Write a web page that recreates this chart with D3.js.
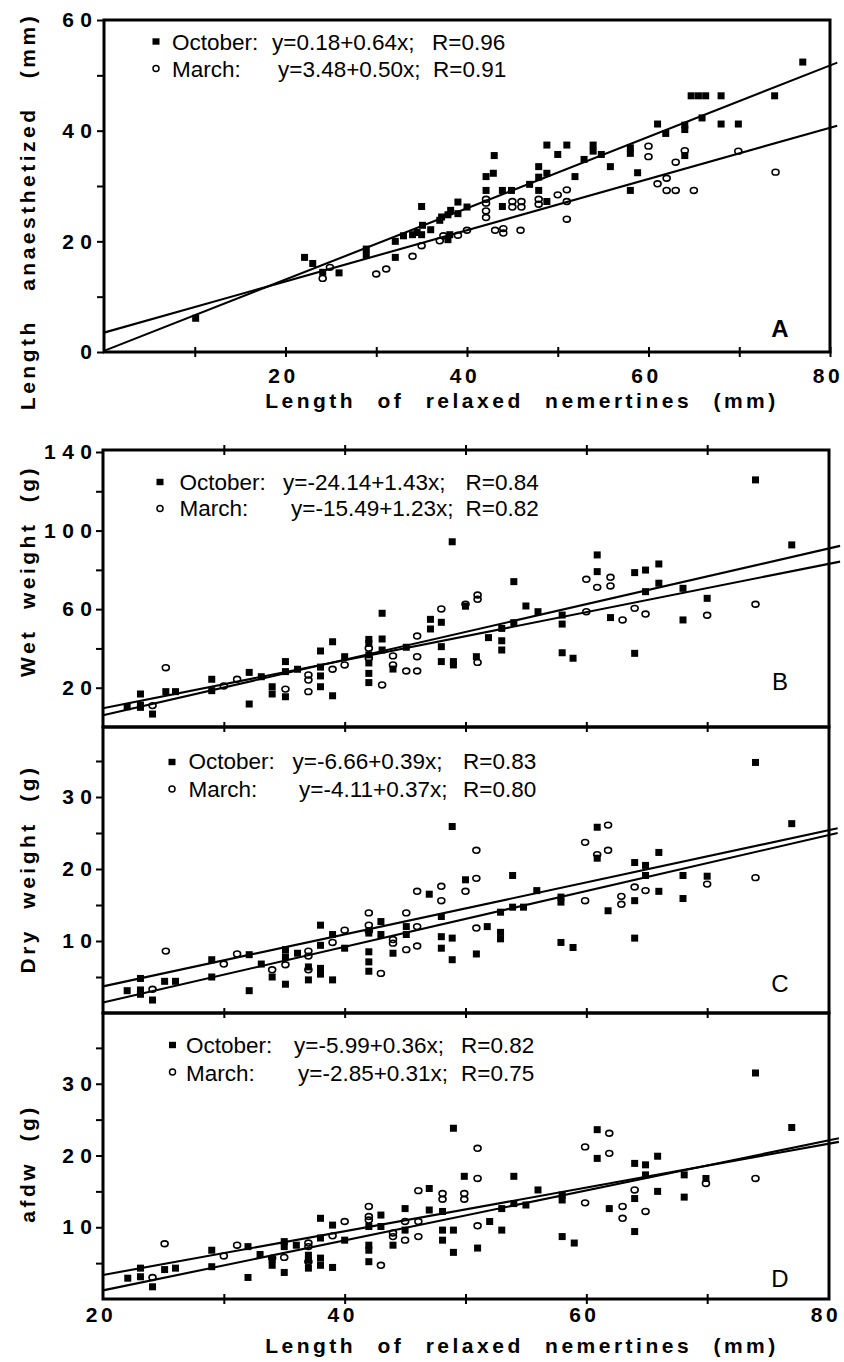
<!DOCTYPE html>
<html><head><meta charset="utf-8">
<script src="https://cdn.jsdelivr.net/npm/d3@7"></script>
<style>
body{margin:0;background:#fff}
svg{display:block}
text{font-family:"Liberation Sans",Arial,Helvetica,sans-serif;fill:#000}
</style>
</head><body>
<svg id="c" width="844" height="1362"></svg>
<script>
// ---------- DATA ----------
// Panel A: length anaesthetized (mm) vs relaxed length (mm)
const octA = [[10.1,6.1],[22.1,17.1],[23.0,16.0],[24.1,14.4],[25.9,14.3],[28.9,17.5],[28.9,18.6],[32.1,17.1],[32.1,20.0],[33.0,21.0],[34.0,21.2],[34.5,21.6],[35.0,26.3],[35.0,21.2],[35.1,22.9],[36.0,22.1],[37.0,23.8],[37.2,24.4],[37.9,24.8],[37.9,20.3],[38.1,21.2],[38.2,25.6],[39.0,27.1],[39.0,25.0],[40.0,26.2],[42.1,29.2],[42.1,31.7],[42.9,32.3],[43.0,35.5],[43.9,29.2],[43.9,26.3],[44.9,29.2],[46.9,30.3],[47.9,33.5],[47.9,31.6],[47.9,29.2],[48.8,37.4],[48.8,32.3],[48.8,27.2],[50.0,35.7],[51.0,37.4],[51.9,31.7],[52.9,34.8],[53.9,36.3],[53.9,37.4],[54.8,35.7],[55.8,33.5],[58.0,35.9],[58.0,36.9],[58.0,29.2],[58.8,32.4],[61.0,41.2],[61.9,39.5],[64.0,40.2],[64.0,41.0],[64.0,35.5],[64.7,46.3],[65.5,46.3],[66.3,46.3],[65.9,42.3],[68.0,46.3],[68.0,41.2],[69.9,41.2],[73.9,46.3],[77.0,52.4]];
const marA = [[24.1,13.3],[24.9,15.3],[30.0,14.1],[31.1,15.0],[34.0,17.3],[35.0,19.2],[37.0,20.1],[37.4,21.0],[39.0,21.1],[40.0,22.0],[42.1,24.3],[42.1,25.5],[42.1,26.9],[42.1,27.6],[43.1,22.0],[44.0,21.5],[44.0,22.3],[45.0,27.2],[45.0,26.2],[46.0,27.2],[46.0,26.2],[45.9,22.0],[47.9,27.6],[47.9,26.7],[50.0,28.4],[51.0,29.3],[51.0,27.2],[51.0,24.0],[60.0,37.2],[60.0,35.3],[61.0,30.4],[62.0,31.4],[62.0,29.2],[63.0,29.2],[63.0,34.3],[64.0,36.4],[65.0,29.2],[69.9,36.3],[74.0,32.5]];
const fitOctA = [[0,0.2],[80.8,52.3]];
const fitMarA = [[0,3.5],[80.8,40.9]];

// Panel B: wet weight (g)
const octB = [[22.0,10.3],[23.1,16.8],[23.1,11.2],[23.1,10.0],[24.1,6.6],[25.2,18.0],[26.0,18.0],[29.0,24.3],[29.0,18.5],[32.1,11.7],[32.1,27.8],[33.1,25.6],[34.0,20.5],[34.0,16.8],[35.1,33.3],[35.1,28.2],[35.1,15.4],[36.1,29.4],[38.0,38.7],[38.0,30.5],[38.0,26.0],[38.0,20.5],[39.0,43.4],[39.0,15.9],[40.0,35.8],[42.0,44.6],[42.0,42.6],[42.0,36.7],[42.0,32.6],[42.0,27.3],[42.0,22.6],[43.1,57.9],[43.1,44.8],[43.1,39.2],[44.0,29.5],[45.1,40.6],[47.1,54.8],[47.1,49.9],[48.0,40.9],[48.0,33.3],[48.0,53.3],[48.9,94.3],[49.0,33.3],[49.0,31.6],[50.0,61.5],[50.9,35.8],[51.9,45.5],[53.0,50.2],[53.0,43.9],[53.0,39.2],[54.0,53.1],[54.0,74.0],[55.0,61.6],[56.0,58.7],[58.0,57.0],[58.0,52.4],[58.0,37.8],[58.9,35.0],[60.9,87.6],[60.9,79.1],[62.0,55.7],[64.0,78.6],[64.9,79.9],[66.0,83.0],[66.0,73.2],[64.9,68.9],[64.0,37.5],[68.0,70.6],[68.0,54.5],[70.0,65.5],[74.0,125.8],[77.0,92.7]];
const marB = [[24.1,10.9],[25.2,30.2],[30.0,20.9],[31.1,24.3],[35.1,19.3],[37.0,26.5],[37.0,23.9],[37.0,18.0],[39.0,29.4],[40.0,31.6],[42.0,40.1],[42.0,35.0],[43.1,21.4],[44.0,36.2],[44.0,31.6],[45.1,28.5],[46.0,28.5],[46.0,35.8],[46.0,46.3],[48.0,60.1],[50.0,62.5],[51.0,67.2],[51.0,65.0],[51.0,32.9],[60.0,75.2],[60.9,71.1],[62.0,76.2],[62.0,71.8],[60.0,58.7],[63.0,54.5],[64.0,60.4],[64.9,57.5],[70.0,56.9],[74.0,62.5]];
const fitOctB = [[20,6.0],[81,92.2]];
const fitMarB = [[20,9.5],[81,84.2]];

// Panel C: dry weight (g)
const octC = [[22.0,3.1],[23.1,4.8],[23.1,3.2],[23.1,2.6],[24.1,1.8],[25.1,4.4],[26.0,4.4],[29.0,7.4],[29.0,5.0],[32.1,3.1],[32.1,8.1],[33.1,6.8],[34.0,5.0],[35.1,8.8],[35.1,7.8],[35.1,4.0],[36.1,8.3],[37.0,4.6],[37.0,6.4],[38.0,12.2],[38.0,9.4],[38.0,6.2],[38.0,5.4],[39.0,10.9],[39.0,4.6],[40.0,9.0],[42.0,11.1],[42.0,8.5],[42.0,7.1],[42.0,5.8],[43.0,12.7],[43.0,10.9],[44.0,8.3],[45.1,12.0],[45.1,10.9],[47.0,16.5],[48.0,13.4],[48.0,10.6],[48.0,9.0],[48.9,25.9],[48.9,10.4],[48.9,7.4],[50.0,18.5],[50.9,8.2],[51.8,12.0],[52.9,14.0],[52.9,11.2],[52.9,10.3],[53.9,19.1],[53.9,14.7],[54.8,14.7],[55.9,17.0],[57.9,16.1],[57.9,15.4],[57.9,9.8],[58.9,9.1],[60.9,25.8],[60.9,21.5],[61.8,14.2],[64.0,20.9],[64.9,20.5],[64.9,19.1],[64.0,15.6],[66.0,22.3],[66.0,16.9],[68.0,19.1],[68.0,15.9],[70.0,19.0],[64.0,10.4],[74.0,34.8],[77.0,26.3]];
const marC = [[24.1,3.3],[25.2,8.6],[30.0,6.8],[31.1,8.2],[34.0,6.0],[35.1,6.7],[37.0,8.6],[37.0,7.9],[37.0,6.0],[39.0,9.8],[40.0,11.5],[42.0,13.9],[42.0,12.2],[42.0,11.4],[43.0,5.5],[44.0,10.2],[44.0,9.7],[45.1,13.9],[45.1,8.8],[46.0,12.0],[46.0,9.3],[46.0,16.9],[48.0,17.6],[48.0,15.6],[50.0,16.9],[50.9,22.6],[50.9,18.7],[50.9,11.8],[59.9,23.7],[60.9,22.0],[61.8,26.1],[61.8,22.6],[59.9,15.6],[62.9,16.2],[62.9,15.1],[64.0,17.5],[64.9,17.0],[70.0,17.9],[74.0,18.8]];
const fitOctC = [[20,1.45],[80.8,25.0]];
const fitMarC = [[20,3.7],[80.8,25.65]];

// Panel D: afdw (g)
const octD = [[22.05,2.9],[23.1,3.1],[23.1,4.3],[24.1,1.7],[25.1,4.1],[26.0,4.3],[29.0,6.8],[29.0,4.5],[32.0,3.0],[32.0,7.3],[33.0,6.2],[34.0,5.5],[34.0,4.7],[35.0,8.0],[35.0,7.3],[35.0,3.7],[36.0,7.5],[37.0,6.1],[37.0,5.4],[37.0,4.3],[38.0,11.25],[38.0,8.5],[38.0,5.7],[38.0,4.7],[39.0,10.3],[39.0,4.4],[40.0,8.2],[42.0,10.1],[42.0,7.5],[42.0,6.8],[42.0,5.2],[43.0,11.7],[43.0,10.1],[44.0,7.5],[45.0,12.6],[45.0,9.6],[47.0,15.4],[47.0,12.4],[48.1,12.2],[48.1,9.6],[48.1,8.2],[49.0,23.8],[49.0,9.6],[49.0,6.5],[49.9,17.1],[51.0,7.1],[52.0,10.8],[53.0,12.6],[53.0,9.6],[54.0,17.1],[54.0,13.3],[55.0,13.1],[56.0,15.2],[58.0,14.5],[58.0,13.8],[58.0,8.7],[59.0,7.8],[60.9,19.6],[60.9,23.6],[61.9,12.6],[64.0,18.9],[64.0,14.0],[64.0,9.4],[64.9,18.7],[64.9,17.3],[65.9,19.9],[65.9,15.0],[68.1,17.3],[68.1,14.2],[69.9,16.8],[74.0,31.5],[77.0,23.9]];
const marD = [[24.1,3.0],[25.1,7.7],[30.0,6.0],[31.1,7.5],[34.0,5.7],[35.0,5.8],[37.0,7.8],[37.0,7.3],[37.0,5.2],[39.0,8.8],[40.0,10.8],[42.0,12.9],[42.0,11.5],[42.0,11.0],[43.0,4.7],[44.0,9.2],[44.0,8.7],[45.0,8.2],[45.0,10.8],[46.1,15.1],[46.1,8.7],[46.1,10.8],[48.1,14.7],[48.1,13.9],[49.9,14.7],[49.9,13.9],[51.0,21.0],[51.0,16.8],[51.0,10.2],[59.9,21.2],[59.9,13.4],[61.9,20.3],[61.9,23.1],[63.0,12.9],[63.0,11.25],[64.0,15.2],[64.9,12.2],[69.9,16.1],[74.0,16.8]];
const fitOctD = [[20,1.2],[80.9,22.4]];
const fitMarD = [[20,3.35],[80.9,21.9]];

// Legend texts
const seriesNames = ["October:", "March:"];
const eqA = ["y=0.18+0.64x;", "y=3.48+0.50x;"], rA = ["R=0.96", "R=0.91"];
const eqB = ["y=-24.14+1.43x;", "y=-15.49+1.23x;"], rB = ["R=0.84", "R=0.82"];
const eqC = ["y=-6.66+0.39x;", "y=-4.11+0.37x;"], rC = ["R=0.83", "R=0.80"];
const eqD = ["y=-5.99+0.36x;", "y=-2.85+0.31x;"], rD = ["R=0.82", "R=0.75"];

// Ticks and labels
const yTicksA = [0,10,20,30,40,50,60], yLabelsA = [0,20,40,60];
const yTicksB = [20,40,60,80,100,120,140], yLabelsB = [20,60,100,140];
const yTicksC = [5,10,15,20,25,30,35], yLabelsC = [10,20,30];
const yTicksD = [5,10,15,20,25,30,35], yLabelsD = [10,20,30];
const xTicksA = [10,20,30,40,50,60,70,80], xLabelsA = [20,40,60,80];
const xTicksBCD = [30,40,50,60,70], xLabelsD = [20,40,60,80];
const xTitle = "Length of relaxed nemertines (mm)";
const yTitles = ["Length anaesthetized (mm)", "Wet weight (g)", "Dry weight (g)", "afdw (g)"];
const panelLetters = ["A","B","C","D"];

// ---------- DRAW ----------
const svg = d3.select("#c");
const FONT = '"Liberation Sans",Arial,Helvetica,sans-serif';

const panels = [
  {oct:octA, mar:marA, fo:fitOctA, fm:fitMarA, xd:[0,80], xr:[104,830], yd:[0,60], yr:[352,20],
   f:{l:104,r:830,t:20,b:352}, yt:yTicksA, yl:yLabelsA, xt:xTicksA, xtY:[352], xl:xLabelsA, xlBase:383, xTitleBase:408,
   eq:eqA, r:rA, leg:{mx:156, my:[41.5,68.5], lx:172, ex:[272,278], rx:[432,433], base:[50,77]},
   title:yTitles[0], tc:211.5, ws:19, letter:panelLetters[0], lb:337, lw:"bold"},
  {oct:octB, mar:marB, fo:fitOctB, fm:fitMarB, xd:[20,80], xr:[103,828], yd:[0,140], yr:[727,452],
   f:{l:103,r:829,t:450,b:727}, yt:yTicksB, yl:yLabelsB, xt:xTicksBCD, xtY:[450,727], xl:null,
   eq:eqB, r:rB, leg:{mx:160, my:[482,508.5], lx:179.5, ex:[283,291], rx:[465.5,465.5], base:[489.5,516]},
   title:yTitles[1], tc:571, ws:10, letter:panelLetters[1], lb:690, lw:"normal"},
  {oct:octC, mar:marC, fo:fitOctC, fm:fitMarC, xd:[20,80], xr:[103,828], yd:[0,40], yr:[1013,725],
   f:{l:103,r:829,t:727,b:1013}, yt:yTicksC, yl:yLabelsC, xt:xTicksBCD, xtY:[1013], xl:null,
   eq:eqC, r:rC, leg:{mx:172, my:[762,789], lx:188.5, ex:[292.5,299], rx:[463,463], base:[769,797]},
   title:yTitles[2], tc:869, ws:10, letter:panelLetters[2], lb:992, lw:"normal"},
  {oct:octD, mar:marD, fo:fitOctD, fm:fitMarD, xd:[20,80], xr:[103,828], yd:[0,40], yr:[1299,1012],
   f:{l:103,r:829,t:1013,b:1299}, yt:yTicksD, yl:yLabelsD, xt:xTicksBCD, xtY:[1299], xl:xLabelsD, xlBase:1322, xTitleBase:1353,
   eq:eqD, r:rD, leg:{mx:172.5, my:[1045,1072], lx:186, ex:[294,298], rx:[461,461], base:[1053,1081]},
   title:yTitles[3], tc:1163.5, ws:10, letter:panelLetters[3], lb:1287, lw:"normal"}
];

panels.forEach(p => {
  const x = d3.scaleLinear().domain(p.xd).range(p.xr);
  const y = d3.scaleLinear().domain(p.yd).range(p.yr);
  const g = svg.append("g");
  const line = d3.line().x(d => x(d[0])).y(d => y(d[1]));

  // regression lines
  [p.fo, p.fm].forEach(l => g.append("path").attr("d", line(l))
    .attr("fill","none").attr("stroke","#000").attr("stroke-width",2.1));

  // points
  g.selectAll(null).data(p.oct).join("rect")
    .attr("x", d => x(d[0]) - 3.5).attr("y", d => y(d[1]) - 3.5)
    .attr("width", 7).attr("height", 7).attr("fill", "#000");
  g.selectAll(null).data(p.mar).join("ellipse")
    .attr("cx", d => x(d[0])).attr("cy", d => y(d[1]))
    .attr("rx", 3.5).attr("ry", 2.9)
    .attr("fill", "none").attr("stroke", "#000").attr("stroke-width", 1.6);

  // frame
  g.append("rect").attr("x", p.f.l).attr("y", p.f.t)
    .attr("width", p.f.r - p.f.l).attr("height", p.f.b - p.f.t)
    .attr("fill","none").attr("stroke","#000").attr("stroke-width",3);

  // y ticks
  const ya = g.append("g").attr("transform", `translate(${p.f.l},0)`)
    .call(d3.axisLeft(y).tickValues(p.yt).tickSize(7).tickFormat(""));
  ya.select(".domain").remove();
  ya.selectAll("line").attr("stroke","#000").attr("stroke-width",2);

  // y labels
  const yLab = g.append("g").attr("transform", `translate(${92 + 6.5},0)`)
    .call(d3.axisLeft(y).tickValues(p.yl).tickSize(0).tickPadding(0).tickFormat(d3.format("d")));
  yLab.select(".domain").remove();
  yLab.selectAll("line").remove();
  yLab.selectAll("text").attr("font-family", FONT).attr("font-size", 21)
    .attr("font-weight","bold").attr("letter-spacing","6.5px").attr("fill","#000");

  // x ticks (crossing the border lines)
  p.xtY.forEach(yy => {
    const xa = g.append("g").attr("transform", `translate(0,${yy})`)
      .call(d3.axisBottom(x).tickValues(p.xt).tickSize(5).tickFormat(""));
    xa.select(".domain").remove();
    xa.selectAll("line").attr("y1", -5).attr("stroke","#000").attr("stroke-width",2);
  });

  // x labels + title
  if (p.xl) {
    const xLab = g.append("g").attr("transform", `translate(0,${p.f.b})`)
      .call(d3.axisBottom(x).tickValues(p.xl).tickSize(0).tickFormat(d3.format("d")));
    xLab.select(".domain").remove();
    xLab.selectAll("line").remove();
    xLab.selectAll("text").attr("dy", null).attr("dx", -2.5).attr("y", p.xlBase - p.f.b)
      .attr("font-family", FONT).attr("font-size", 21).attr("font-weight","bold")
      .attr("letter-spacing","3.5px").attr("fill","#000");
    g.append("text").attr("x", 522).attr("y", p.xTitleBase).attr("text-anchor","middle")
      .attr("font-size", 21).attr("font-weight","bold")
      .style("letter-spacing","3.5px").style("word-spacing","12px").text(xTitle);
  }

  // y title
  g.append("text").attr("transform", `translate(35,${p.tc}) rotate(-90)`)
    .attr("text-anchor","middle").attr("font-size",21).attr("font-weight","bold")
    .style("letter-spacing","3.5px").style("word-spacing", p.ws + "px").text(p.title);

  // legend
  const L = p.leg;
  g.append("rect").attr("x", L.mx - 3.5).attr("y", L.my[0] - 3.2).attr("width", 7).attr("height", 6.4).attr("fill","#000");
  g.append("ellipse").attr("cx", L.mx).attr("cy", L.my[1]).attr("rx", 3).attr("ry", 3)
    .attr("fill","none").attr("stroke","#000").attr("stroke-width",1.5);
  [0,1].forEach(i => {
    g.append("text").attr("x", L.lx).attr("y", L.base[i]).attr("font-size", 22.5).text(seriesNames[i]);
    g.append("text").attr("x", L.ex[i]).attr("y", L.base[i]).attr("font-size", 22.5).text(p.eq[i]);
    g.append("text").attr("x", L.rx[i]).attr("y", L.base[i]).attr("font-size", 22.5).text(p.r[i]);
  });

  // panel letter
  g.append("text").attr("x", 780).attr("y", p.lb).attr("text-anchor","middle")
    .attr("font-size", 24).attr("font-weight", p.lw).text(p.letter);
});
</script>
</body></html>
